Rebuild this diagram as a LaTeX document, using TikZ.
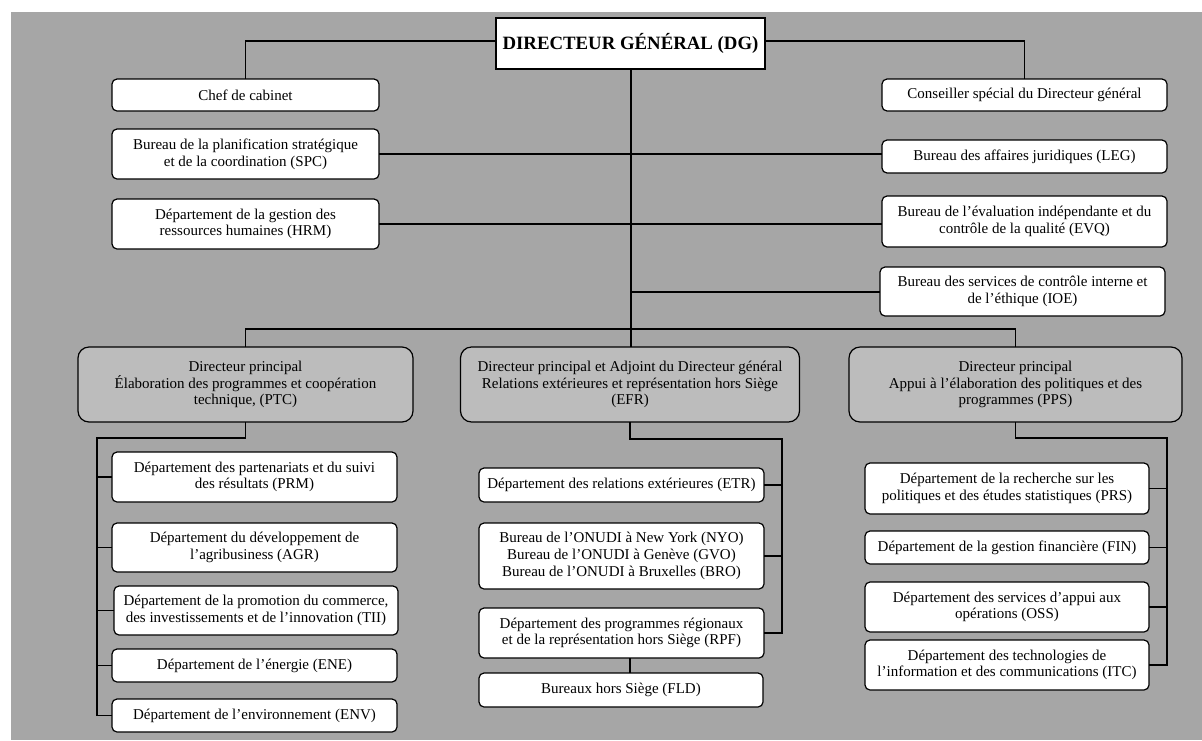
\documentclass[tikz,border=0pt]{standalone}
\usepackage{fontspec}
\setmainfont{Liberation Serif}
\definecolor{bgc}{RGB}{166,166,166}
\definecolor{dirc}{RGB}{188,188,188}
\tikzset{
  wbox/.style={draw, fill=white, rounded corners=5pt, line width=1.2pt, align=center, inner sep=0pt,
    font=\fontsize{15}{16.7}\selectfont},
  dbox/.style={draw, fill=dirc, rounded corners=11pt, line width=1.2pt, align=center, inner sep=0pt,
    font=\fontsize{15}{16.7}\selectfont},
  conn/.style={line width=1.2pt, line cap=rect},
}
\begin{document}
\begin{tikzpicture}[x=1pt,y=-1pt]
\useasboundingbox (0,0) rectangle (1202,740);
\fill[bgc] (11,12) rectangle (1202,740);

% top
\node[draw, fill=white, line width=2.4pt, inner sep=0pt, minimum width=269pt, minimum height=51pt,
  font=\fontsize{18.8}{20}\selectfont\bfseries] (dg) at (630.5,43.5) {DIRECTEUR GÉNÉRAL (DG)};

\node[wbox, minimum width=267pt, minimum height=32pt] (chef) at (245.5,95) {Chef de cabinet};
\node[wbox, minimum width=267pt, minimum height=50pt] (spc) at (245.5,154) {Bureau de la planification stratégique\\et de la coordination (SPC)};
\node[wbox, minimum width=267pt, minimum height=50pt] (hrm) at (245.5,224) {Département de la gestion des\\ressources humaines (HRM)};

\node[wbox, minimum width=285pt, minimum height=32pt] (cons) at (1024.5,95) {Conseiller spécial du Directeur général};
\node[wbox, minimum width=285pt, minimum height=33pt] (leg) at (1024.5,156.5) {Bureau des affaires juridiques (LEG)};
\node[wbox, minimum width=285pt, minimum height=51pt] (evq) at (1024.5,221.5) {Bureau de l’évaluation indépendante et du\\contrôle de la qualité (EVQ)};
\node[wbox, minimum width=285pt, minimum height=49pt] (ioe) at (1022.5,291.5) {Bureau des services de contrôle interne et\\de l’éthique (IOE)};

% directors
\node[dbox, minimum width=335pt, minimum height=75pt] (ptc) at (245.5,384.5) {Directeur principal\\Élaboration des programmes et coopération\\technique, (PTC)};
\node[dbox, minimum width=339pt, minimum height=75pt] (efr) at (630,384.5) {Directeur principal et Adjoint du Directeur général\\Relations extérieures et représentation hors Siège\\(EFR)};
\node[dbox, minimum width=333pt, minimum height=75pt] (pps) at (1015.5,384.5) {Directeur principal\\Appui à l’élaboration des politiques et des\\programmes (PPS)};

% PTC children
\node[wbox, minimum width=285pt, minimum height=50pt] (prm) at (254.5,477) {Département des partenariats et du suivi\\des résultats (PRM)};
\node[wbox, minimum width=285pt, minimum height=49pt] (agr) at (254.5,547.5) {Département du développement de\\l’agribusiness (AGR)};
\node[wbox, minimum width=284pt, minimum height=49pt] (tii) at (256,610.5) {Département de la promotion du commerce,\\des investissements et de l’innovation (TII)};
\node[wbox, minimum width=285pt, minimum height=33pt] (ene) at (254.5,665.5) {Département de l’énergie (ENE)};
\node[wbox, minimum width=285pt, minimum height=33pt] (env) at (254.5,715.5) {Département de l’environnement (ENV)};

% EFR children
\node[wbox, minimum width=285pt, minimum height=34pt] (etr) at (621.5,485) {Département des relations extérieures (ETR)};
\node[wbox, minimum width=285pt, minimum height=66pt] (nyo) at (621.5,556) {Bureau de l’ONUDI à New York (NYO)\\Bureau de l’ONUDI à Genève (GVO)\\Bureau de l’ONUDI à Bruxelles (BRO)};
\node[wbox, minimum width=285pt, minimum height=50pt] (rpf) at (621.5,633) {Département des programmes régionaux\\et de la représentation hors Siège (RPF)};
\node[wbox, minimum width=284pt, minimum height=34pt] (fld) at (621,690) {Bureaux hors Siège (FLD)};

% PPS children
\node[wbox, minimum width=284pt, minimum height=51pt] (prs) at (1007,488.5) {Département de la recherche sur les\\politiques et des études statistiques (PRS)};
\node[wbox, minimum width=284pt, minimum height=33pt] (fin) at (1007,547.5) {Département de la gestion financière (FIN)};
\node[wbox, minimum width=284pt, minimum height=50pt] (oss) at (1007,607) {Département des services d’appui aux\\opérations (OSS)};
\node[wbox, minimum width=284pt, minimum height=50pt] (itc) at (1007,665) {Département des technologies de\\l’information et des communications (ITC)};

% coordinates
\coordinate (toprow) at (631,41);
\coordinate (bar) at (631,329);
\coordinate (ioej) at (631,292);
\coordinate (ptcj) at (97,438);
\coordinate (efrj) at (782,439);
\coordinate (ppsj) at (1167,438);

% connectors
\draw[conn] (chef.north) -- (chef.north |- toprow) -- (dg.west |- toprow);
\draw[conn] (dg.east |- toprow) -- (cons.north |- toprow) -- (cons.north);
\draw[conn] (dg.south -| bar) -- (efr.north -| bar);
\draw[conn] (spc.east) -- (spc.east -| leg.west);
\draw[conn] (hrm.east) -- (hrm.east -| evq.west);
\draw[conn] (ioej) -- (ioej -| ioe.west);
\draw[conn] (ptc.north) -- (ptc.north |- bar) -- (pps.north |- bar) -- (pps.north);

% PTC tree
\draw[conn] (ptc.south) -- (ptc.south |- ptcj) -- (ptcj) -- (ptcj |- env.west) -- (env.west);
\foreach \n in {prm,agr,tii,ene} \draw[conn] (ptcj |- \n.west) -- (\n.west);

% EFR tree
\draw[conn] (efr.south) -- (efr.south |- efrj) -- (efrj) -- (efrj |- rpf.east) -- (rpf.east);
\foreach \n in {etr,nyo} \draw[conn] (efrj |- \n.east) -- (\n.east);
\draw[conn] (rpf.south -| efr.south) -- (fld.north -| efr.south);

% PPS tree
\draw[conn] (pps.south) -- (pps.south |- ppsj) -- (ppsj) -- (ppsj |- itc.east) -- (itc.east);
\foreach \n in {prs,fin,oss} \draw[conn] (ppsj |- \n.east) -- (\n.east);
\end{tikzpicture}
\end{document}
